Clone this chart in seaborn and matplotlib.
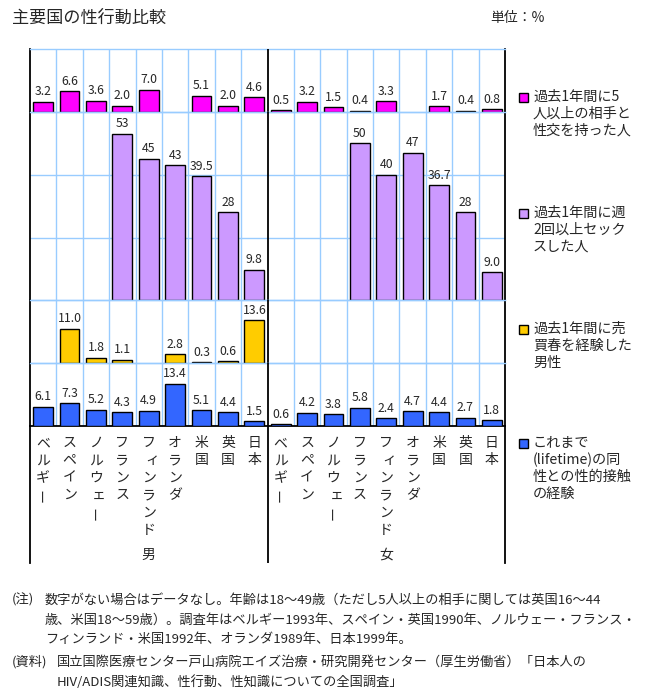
import numpy as np
import pandas as pd
import matplotlib
matplotlib.use("Agg")
import matplotlib.pyplot as plt
import seaborn as sns

# ---------------- data ----------------
countries = ["ベルギー", "スペイン", "ノルウェー", "フランス", "フィンランド",
             "オランダ", "米国", "英国", "日本"]
sexes = ["男", "女"]

# "" = no data
male_partners5 = ["3.2", "6.6", "3.6", "2.0", "7.0", "", "5.1", "2.0", "4.6"]
female_partners5 = ["0.5", "3.2", "1.5", "0.4", "3.3", "", "1.7", "0.4", "0.8"]
male_weekly = ["", "", "", "53", "45", "43", "39.5", "28", "9.8"]
female_weekly = ["", "", "", "50", "40", "47", "36.7", "28", "9.0"]
male_prostitution = ["", "11.0", "1.8", "1.1", "", "2.8", "0.3", "0.6", "13.6"]
female_prostitution = ["", "", "", "", "", "", "", "", ""]
male_samesex = ["6.1", "7.3", "5.2", "4.3", "4.9", "13.4", "5.1", "4.4", "1.5"]
female_samesex = ["0.6", "4.2", "3.8", "5.8", "2.4", "4.7", "4.4", "2.7", "1.8"]

series_labels = [
    "過去1年間に5\n人以上の相手と\n性交を持った人",
    "過去1年間に週\n2回以上セック\nスした人",
    "過去1年間に売\n買春を経験した\n男性",
    "これまで\n(lifetime)の同\n性との性的接触\nの経験",
]
series_colors = ["#FF00FF", "#CC99FF", "#FFCC00", "#3366FF"]
panel_max = [20, 60, 20, 20]

title = "主要国の性行動比較"
unit = "単位：%"
note_head = "(注)"
note_lines = [
    "数字がない場合はデータなし。年齢は18～49歳（ただし5人以上の相手に関しては英国16～44",
    "歳、米国18～59歳）。調査年はベルギー1993年、スペイン・英国1990年、ノルウェー・フランス・",
    "フィンランド・米国1992年、オランダ1989年、日本1999年。",
]
src_head = "(資料)"
src_lines = [
    "国立国際医療センター戸山病院エイズ治療・研究開発センター（厚生労働省）「日本人の",
    "HIV/ADIS関連知識、性行動、性知識についての全国調査」",
]

series = [
    (male_partners5, female_partners5),
    (male_weekly, female_weekly),
    (male_prostitution, female_prostitution),
    (male_samesex, female_samesex),
]

# ---------------- style ----------------
sns.set_style("white")
plt.rcParams["font.family"] = ["Noto Sans CJK JP", "DejaVu Sans"]

W, H = 655, 695
GRID = "#99CCFF"
fig = plt.figure(figsize=(W / 100, H / 100), dpi=100)


def rect(x0, y0, x1, y1):
    return [x0 / W, 1 - y1 / H, (x1 - x0) / W, (y1 - y0) / H]


cols = [f"{s}-{c}" for s in sexes for c in countries]

X0, X1 = 30, 505
TOP, BASE = 49, 426
px_per_unit = (BASE - TOP) / sum(panel_max)
bounds = []
y = TOP
for m in panel_max:
    bounds.append((y, y + m * px_per_unit))
    y += m * px_per_unit

for k, ((m_vals, f_vals), color, ymax) in enumerate(zip(series, series_colors, panel_max)):
    y0, y1 = bounds[k]
    ax = fig.add_axes(rect(X0, y0, X1, y1))
    labels = list(m_vals) + list(f_vals)
    df = pd.DataFrame({"col": cols, "label": labels})
    df["value"] = pd.to_numeric(df["label"].replace("", np.nan))
    dfv = df.dropna(subset=["value"])
    sns.barplot(data=dfv, x="col", y="value", order=cols, color=color,
                saturation=1, width=0.75, edgecolor="black", linewidth=1.0,
                errorbar=None, ax=ax, zorder=3)
    ax.set_xlim(-0.5, len(cols) - 0.5)
    ax.set_ylim(0, ymax)
    ax.set_xlabel("")
    ax.set_ylabel("")
    ax.set_xticks([])
    ax.set_yticks([])
    for b in np.arange(0.5, len(cols) - 1, 1.0):
        if b == len(countries) - 0.5:
            ax.axvline(b, color="black", lw=1.3, zorder=4)
        else:
            ax.axvline(b, color=GRID, lw=1.0, zorder=1)
    for g in range(20, ymax, 20):
        ax.axhline(g, color=GRID, lw=1.0, zorder=1)
    for side in ["left", "right"]:
        ax.spines[side].set_color("black")
        ax.spines[side].set_linewidth(1.3)
    ax.spines["top"].set_color(GRID)
    ax.spines["top"].set_linewidth(1.0)
    ax.spines["bottom"].set_color("black" if k == 3 else GRID)
    ax.spines["bottom"].set_linewidth(1.3 if k == 3 else 1.0)
    ax.patch.set_alpha(0)
    # value labels
    for p in ax.patches:
        xc = p.get_x() + p.get_width() / 2
        idx = int(round(xc))
        txt = labels[idx]
        if txt == "":
            continue
        ax.annotate(txt, (xc, p.get_height()), xytext=(0, 2.5),
                    textcoords="offset points", ha="center", va="bottom",
                    fontsize=8.8, zorder=5, annotation_clip=False)

# ---------------- category label area ----------------
lab_bottom = 563
axl = fig.add_axes(rect(X0, BASE, X1, lab_bottom))
axl.set_xlim(-0.5, len(cols) - 0.5)
axl.set_ylim(lab_bottom, BASE)
axl.set_xticks([])
axl.set_yticks([])
axl.patch.set_alpha(0)
for side in ["top", "bottom"]:
    axl.spines[side].set_visible(False)
for side in ["left", "right"]:
    axl.spines[side].set_color("black")
    axl.spines[side].set_linewidth(1.3)
axl.axvline(len(countries) - 0.5, color="black", lw=1.3)
step = 17.4
for si, s in enumerate(sexes):
    for ci, c in enumerate(countries):
        xi = si * len(countries) + ci
        for j, ch in enumerate(c):
            rot = 90 if ch == "ー" else 0
            dx = 0.12 if ch in "ィェ" else 0
            axl.text(xi + dx, 443 + step * j, ch, ha="center", va="center",
                     fontsize=10, rotation=rot)
    axl.text(si * len(countries) + 4, 555, s, ha="center", va="center",
             fontsize=10)

# ---------------- legend ----------------
leg_y = [97, 213, 329, 443]
for lab, color, yy in zip(series_labels, series_colors, leg_y):
    fig.patches.append(plt.Rectangle(((519) / W, 1 - (yy + 4.5) / H), 9 / W, 9 / H,
                                     transform=fig.transFigure, facecolor=color,
                                     edgecolor="black", lw=1.0))
    for j, line in enumerate(lab.split("\n")):
        fig.text(533 / W, 1 - (yy + 17 * j) / H, line, ha="left", va="center",
                 fontsize=10.2)

# ---------------- titles & notes ----------------
fig.text(12 / W, 1 - 18 / H, title, ha="left", va="center", fontsize=12.3)
fig.text(490 / W, 1 - 18 / H, unit, ha="left", va="center", fontsize=10)

fig.text(12 / W, 1 - 600 / H, note_head, ha="left", va="center", fontsize=9.5)
for j, line in enumerate(note_lines):
    fig.text(45 / W, 1 - (600 + 20 * j) / H, line, ha="left", va="center", fontsize=9.5)
fig.text(12 / W, 1 - 662 / H, src_head, ha="left", va="center", fontsize=9.5)
for j, line in enumerate(src_lines):
    fig.text(57 / W, 1 - (662 + 20 * j) / H, line, ha="left", va="center", fontsize=9.5)

fig.savefig("out.png", dpi=100)
